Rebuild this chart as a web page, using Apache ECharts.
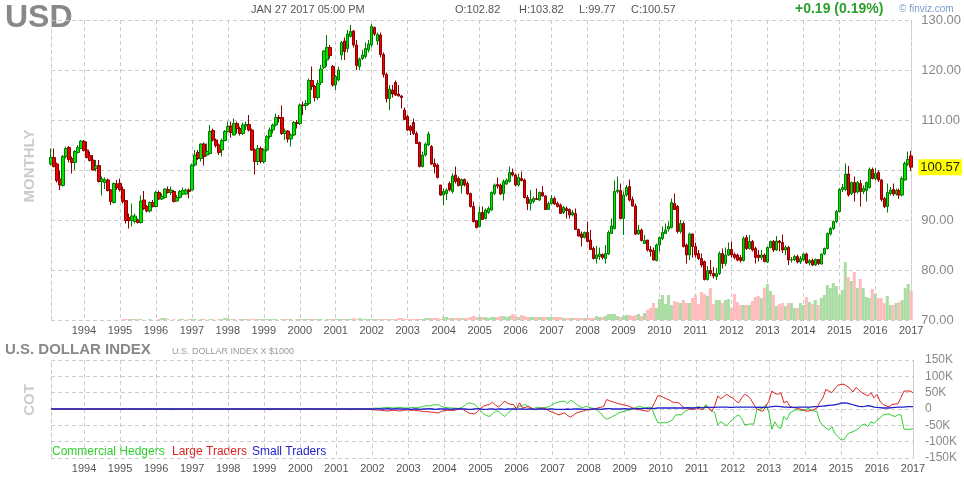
<!DOCTYPE html>
<html><head><meta charset="utf-8">
<script src="https://cdn.jsdelivr.net/npm/echarts@6/dist/echarts.min.js"></script>
<style>html,body{margin:0;padding:0;background:#fff}#c{width:964px;height:480px}</style>
</head><body><div id="c"></div>
<script>
// ---------- DATA ----------
const startYear = 1993, startMonth = 2; // first monthly candle: Feb 1993
const yearLabels = ['1994','1995','1996','1997','1998','1999','2000','2001','2002','2003','2004','2005','2006','2007','2008','2009','2010','2011','2012','2013','2014','2015','2016','2017'];
// [open, close, low, high] per month
const monthlyOHLC = [
// 1993 (Feb-Dec)
[101.2,102.5,100.9,104.3],[102.5,100.7,100.5,104.3],[101.2,97.9,97.5,101.5],[98.2,97.0,96.0,99.9],[96.9,102.7,96.7,103.0],[102.7,104.3,102.3,104.7],[104.5,102.1,101.5,104.8],[102.3,101.5,99.3,102.7],[101.5,103.7,100.0,104.0],[103.5,104.5,103.3,105.0],[104.3,105.8,104.2,106.0],
// 1994
[105.7,103.9,103.7,106.0],[104.0,102.5,102.3,105.7],[102.9,101.9,101.7,103.7],[102.0,100.0,99.9,103.0],[100.3,100.8,99.7,102.0],[100.9,97.7,97.5,102.0],[97.7,98.2,94.9,98.7],[97.5,98.0,96.2,98.5],[98.0,95.9,95.7,98.3],[96.0,93.7,93.0,96.2],[93.5,97.3,93.3,97.5],[97.2,96.5,96.0,98.0],
// 1995
[97.3,96.1,95.7,98.3],[96.1,93.7,93.3,96.7],[93.9,89.9,89.3,94.0],[90.5,89.9,88.3,91.3],[89.9,90.8,88.7,93.3],[89.7,90.8,89.3,91.3],[90.0,89.5,89.3,90.3],[89.5,93.8,89.3,94.9],[94.0,92.3,92.0,95.8],[92.7,91.8,91.5,93.0],[91.8,93.5,91.5,93.7],[93.5,92.7,92.5,94.0],
// 1996
[92.7,95.5,92.5,95.8],[95.5,94.2,94.0,95.9],[94.2,94.7,94.0,95.3],[94.5,96.2,94.3,96.3],[96.1,95.5,95.3,96.7],[95.5,96.0,95.0,96.7],[95.7,93.7,93.5,96.0],[93.8,94.5,93.7,95.0],[94.5,95.7,94.3,96.0],[95.2,95.9,95.0,96.5],[95.2,96.0,95.0,96.3],[96.0,95.7,94.3,96.3],
// 1997
[96.0,101.0,95.9,101.3],[101.0,103.0,100.7,104.0],[103.5,102.3,102.0,104.0],[102.3,105.2,101.7,105.3],[105.2,102.7,100.9,105.5],[103.0,103.7,102.7,105.3],[103.3,107.7,103.1,109.0],[107.9,106.0,105.7,108.3],[106.0,104.9,104.5,106.3],[105.0,103.5,103.0,105.3],[104.0,105.9,102.7,106.3],[105.9,107.7,105.7,108.0],
// 1998
[107.7,108.7,107.5,109.7],[108.8,107.5,106.5,109.7],[107.0,109.3,106.9,110.3],[109.3,108.3,107.3,109.7],[108.3,107.3,106.9,108.7],[107.3,109.0,107.0,109.5],[108.8,109.1,108.0,109.7],[109.1,108.0,107.7,111.0],[108.0,104.0,103.8,108.3],[104.0,101.7,99.1,104.3],[101.7,104.3,101.0,105.0],[104.3,101.7,101.3,104.7],
// 1999
[101.7,104.0,101.3,104.3],[104.0,106.7,103.7,107.0],[106.7,108.0,106.3,108.5],[108.0,109.0,107.3,109.3],[109.0,110.5,108.7,111.3],[110.5,110.3,109.5,111.0],[110.5,107.3,107.0,112.9],[107.3,107.8,106.0,108.3],[107.8,106.2,105.5,108.0],[106.2,107.0,104.7,107.3],[107.0,109.5,106.8,109.8],[109.5,109.3,108.3,110.0],
// 2000
[109.3,113.0,109.0,113.3],[113.0,112.9,111.0,113.7],[112.9,113.3,112.0,114.0],[113.3,117.9,113.0,118.3],[117.9,116.7,116.0,120.7],[116.7,114.5,113.7,117.0],[114.5,117.3,114.0,118.0],[117.5,120.2,117.0,121.0],[120.5,123.8,120.2,124.0],[122.0,124.5,120.7,127.0],[124.5,122.9,122.3,125.0],[120.7,117.0,116.7,121.0],
// 2001
[117.0,118.7,116.0,119.0],[118.0,120.0,117.7,120.7],[123.0,125.5,122.0,125.8],[125.8,123.7,122.0,126.5],[124.3,127.2,123.5,128.0],[126.7,127.7,126.5,129.0],[127.8,125.0,124.5,128.0],[125.0,120.9,120.0,126.0],[120.7,122.2,120.0,122.5],[122.3,123.0,122.0,124.0],[122.7,124.3,122.3,125.5],[124.0,125.2,123.5,126.0],
// 2002
[125.0,128.7,124.5,129.2],[128.5,127.2,126.8,128.7],[125.8,127.1,125.0,127.5],[127.0,123.1,122.5,127.5],[123.1,119.1,118.5,123.5],[119.1,114.3,113.5,119.5],[114.3,116.2,112.0,117.0],[116.0,115.2,114.5,117.0],[117.5,115.0,114.8,117.9],[115.2,114.8,114.7,117.0],[114.8,114.5,112.3,115.0],[112.0,110.1,110.0,112.5],
// 2003
[110.7,108.0,107.8,111.0],[108.7,107.9,107.0,109.0],[109.5,107.3,107.0,110.3],[107.3,105.3,105.2,107.7],[105.5,100.7,100.5,105.7],[100.7,103.0,100.5,103.7],[103.0,105.2,102.7,105.5],[105.0,107.2,104.8,107.7],[104.7,101.2,101.0,105.0],[101.3,100.7,99.3,102.3],[101.0,98.5,98.3,101.3],[97.0,95.0,94.8,97.0],
// 2004
[95.0,95.7,93.0,96.3],[95.3,96.0,94.0,96.3],[97.3,96.0,95.7,97.7],[95.7,98.8,95.3,99.3],[99.0,97.7,97.3,100.7],[98.3,96.9,96.7,98.7],[96.9,98.1,95.3,98.3],[98.1,97.0,96.7,98.3],[97.3,95.2,95.0,97.7],[95.3,92.7,92.5,95.5],[92.7,89.7,89.5,93.7],[89.9,88.5,88.3,90.0],
// 2005
[88.7,91.5,88.5,92.7],[91.5,90.1,90.0,92.7],[90.3,92.0,90.1,92.3],[91.5,92.3,91.2,92.7],[92.0,95.5,91.9,95.7],[95.3,97.0,95.0,97.3],[97.1,96.8,96.3,98.5],[97.0,95.2,95.0,97.3],[95.3,97.7,93.9,98.1],[97.2,98.0,97.0,98.3],[97.7,99.5,97.5,100.7],[99.5,99.0,98.7,100.3],
// 2006
[99.0,97.0,96.7,99.3],[97.0,98.5,96.7,99.3],[98.3,97.9,97.7,99.7],[98.0,94.5,94.3,98.3],[94.5,93.3,92.0,95.0],[93.3,94.1,91.9,96.0],[93.7,94.3,93.3,94.7],[94.3,94.1,94.0,96.3],[94.0,95.5,93.8,95.7],[95.5,94.8,94.7,96.8],[94.8,92.1,92.0,95.0],[92.1,93.3,92.0,93.7],
// 2007
[93.3,94.3,93.1,95.0],[94.3,93.2,93.0,94.7],[93.3,92.7,92.5,93.7],[93.0,91.3,91.2,93.3],[91.5,92.5,91.2,92.8],[92.3,91.9,90.3,92.7],[92.1,91.0,90.3,92.3],[91.0,91.5,90.7,92.0],[91.3,88.1,88.0,92.3],[88.1,86.8,86.7,88.3],[87.2,86.5,84.7,87.7],[86.5,87.5,86.3,87.7],
// 2008
[87.5,85.7,85.5,89.7],[86.0,84.1,84.0,88.0],[84.3,82.3,82.1,84.7],[82.3,83.0,81.3,84.8],[82.7,83.2,82.0,84.5],[83.1,82.5,82.1,83.3],[82.3,83.3,81.3,85.0],[83.2,87.5,83.0,87.9],[87.3,88.8,87.2,90.3],[88.3,95.7,88.1,97.9],[95.7,96.0,95.3,98.7],[95.9,90.3,90.1,97.3],
// 2009
[90.3,95.0,87.0,95.7],[95.0,96.5,94.7,97.0],[96.7,94.0,93.7,98.1],[94.1,92.8,92.7,94.7],[92.8,87.2,87.0,93.3],[87.2,88.0,87.0,89.0],[88.0,85.9,85.7,88.3],[85.3,85.9,85.2,87.0],[86.0,84.0,83.7,86.0],[84.1,83.7,82.7,84.8],[83.9,82.0,81.9,84.5],[81.9,85.0,81.7,85.3],
// 2010
[85.0,86.5,83.7,86.7],[86.3,87.5,86.0,88.7],[87.3,88.0,87.2,89.3],[88.2,88.7,87.7,89.7],[88.5,93.5,88.3,94.3],[93.3,92.1,92.0,95.3],[92.7,87.7,87.3,93.0],[87.7,89.3,87.3,90.0],[89.3,84.7,84.5,89.7],[85.0,83.0,81.3,85.3],[83.0,87.2,82.0,87.5],[87.2,84.7,82.5,87.3],
// 2011
[84.7,83.0,82.5,85.5],[83.3,82.3,82.0,84.0],[82.3,81.0,80.5,83.3],[81.7,78.1,77.9,81.9],[78.1,79.9,77.9,80.8],[79.9,79.3,78.8,82.0],[79.3,78.8,78.3,80.6],[78.7,79.3,78.0,80.4],[79.3,83.3,79.0,83.7],[83.3,81.3,80.3,84.3],[81.3,83.0,80.8,84.5],[83.0,84.1,82.8,85.5],
// 2012
[84.1,83.0,82.5,85.7],[83.1,82.5,82.1,83.5],[83.0,82.0,81.7,83.3],[82.5,81.9,81.5,83.0],[81.9,86.3,81.7,86.7],[86.5,84.3,84.0,87.0],[84.3,85.7,84.1,87.0],[85.7,84.0,83.7,86.0],[84.3,82.5,81.3,84.7],[83.0,82.5,81.7,84.0],[82.5,83.0,82.0,84.0],[83.0,81.7,81.5,83.3],
// 2013
[81.6,84.5,81.4,84.7],[84.5,85.7,84.3,85.9],[85.7,84.0,83.6,86.0],[84.0,85.8,83.8,86.8],[85.8,85.5,83.7,86.0],[85.5,84.0,83.4,87.1],[84.0,84.5,83.0,84.9],[84.5,82.0,81.0,84.8],[82.0,82.1,81.5,82.6],[82.1,82.7,81.8,83.0],[82.7,81.6,81.3,83.1],[81.6,82.3,81.2,82.8],
// 2014
[82.0,83.2,81.8,83.4],[83.2,81.4,81.2,83.5],[81.4,81.9,80.9,82.2],[81.9,81.0,80.8,82.3],[81.0,82.1,80.8,82.3],[82.1,81.3,81.0,82.2],[81.2,83.2,81.1,83.3],[83.2,84.3,83.0,84.5],[84.3,87.3,84.1,87.5],[87.2,88.3,86.9,88.6],[88.3,89.7,88.0,89.9],[89.7,91.7,89.4,92.0],
// 2015
[91.7,96.1,91.5,96.4],[96.1,96.5,95.6,97.2],[96.1,99.2,95.8,101.3],[99.2,95.0,94.7,100.8],[95.3,97.5,95.0,97.7],[97.5,95.5,93.7,98.7],[95.6,97.5,95.3,97.8],[97.3,95.7,92.7,98.0],[95.7,96.3,95.2,96.9],[95.9,97.5,93.7,97.7],[96.5,100.1,96.3,100.5],[100.1,98.3,98.1,100.5],
// 2016
[98.3,99.3,97.9,100.4],[99.5,98.0,97.6,100.0],[98.0,94.1,93.7,98.2],[94.3,92.7,92.4,94.6],[92.7,95.5,91.5,97.3],[95.3,96.0,94.9,96.6],[96.1,95.2,94.8,97.3],[95.2,95.9,94.9,96.3],[95.9,95.0,94.2,96.3],[95.0,98.3,94.7,98.7],[98.0,101.3,97.9,101.7],[101.2,102.1,100.8,103.7],
// 2017 (Jan)
[102.82,100.57,99.77,103.82]
];
// volume (relative units)
const volume = [
0,0,0,0,0,0,0,0,0,0,0,
0,0,0,0,0,0,0,0,0,0,0,0,
0,1,1,1,1,1,1,1,0,0,1,0,
0,1,2,2,1,0,1,0,1,1,0,1,
1,1,0,1,1,0,1,1,0,1,1,2,
2,1,1,0,1,1,1,1,1,1,1,1,
1,1,1,1,1,0,1,1,1,1,0,1,
1,1,1,1,1,1,1,1,0,1,1,1,
1,1,1,1,1,1,2,1,2,1,1,1,
1,1,1,1,1,1,1,1,1,2,2,1,
1,1,1,1,1,1,2,2,2,2,2,1,
3,3,2,2,2,2,2,2,2,3,4,3,
3,3,3,2,3,3,3,4,4,3,4,6,
4,3,5,4,3,3,3,3,3,3,3,3,
3,3,3,3,2,2,2,2,2,2,2,2,
2,2,2,4,3,3,4,6,6,6,4,3,
4,5,5,4,5,6,4,7,10,12,17,12,
21,25,16,25,15,19,18,17,20,17,17,22,
25,16,28,26,24,32,16,20,20,17,20,21,
12,26,18,15,15,15,15,19,23,24,22,32,
36,29,25,14,16,17,14,17,17,12,12,17,
15,23,18,16,20,15,22,25,35,32,37,34,
25,30,58,43,39,48,32,41,32,23,22,31,
26,22,22,17,24,15,15,17,18,20,32,36,
29
];
// COT net positions (thousands of contracts)
const cotCommercial = [
0,0,0,0,0,0,0,0,0,0,0,
0,0,0,0,0,0,0,0,0,0,0,0,
0,0,0,0,0,0,0,1,1,0,-1,0,
1,0,-1,0,1,2,1,0,0,1,0,-1,
0,1,0,-1,0,1,1,0,0,1,0,0,
1,0,-1,0,1,0,0,1,0,-1,0,1,
0,1,2,1,0,-1,0,1,0,0,1,0,
1,0,0,-1,0,1,0,0,1,0,0,1,
0,1,0,0,1,2,1,0,0,1,0,1,
2,3,2,3,4,5,4,3,4,5,4,3,
3,5,4,4,6,8,10,9,12,13,13,8,
5,4,3,3,2,2,6,12,19,17,14,6,
-5,-15,-20,-23,-15,-7,-7,-15,-23,-15,-5,3,
3,8,11,14,6,-2,2,6,4,3,5,8,
14,19,21,23,24,17,27,22,14,8,3,8,
6,3,1,-5,-12,-25,-31,-28,-23,-18,-12,-9,
-7,-4,-2,2,6,8,5,3,6,3,-20,-42,
-42,-42,-42,-38,-33,-18,-18,-18,-7,-3,3,3,
6,8,-2,14,3,-5,-12,-49,-39,-45,-52,-40,
-33,-23,-18,-30,-49,-47,-46,-46,-2,0,3,14,
-10,-62,-39,-55,-59,-23,-33,-12,-7,-2,-3,-5,
-4,3,-3,-7,-7,-39,-50,-58,-65,-54,-75,-85,
-94,-94,-80,-72,-70,-65,-59,-48,-46,-54,-39,-44,
-35,-28,-18,-16,-15,-20,-23,-18,-18,-62,-62,-62,
-60
];
const cotLarge = [
0,0,0,0,0,0,0,0,0,0,0,
0,0,0,0,0,0,0,0,0,0,0,0,
0,0,0,0,0,0,0,-1,-1,0,1,0,
-1,0,1,0,-1,-2,-1,0,0,-1,0,1,
0,-1,0,1,0,-1,-1,0,0,-1,0,0,
-1,0,1,0,-1,0,0,-1,0,1,0,-1,
0,-1,-2,-1,0,1,0,-1,0,0,-1,0,
-1,0,0,1,0,-1,0,0,-1,0,0,-1,
0,-1,0,0,-1,-2,-1,0,0,-1,0,-1,
-2,-3,-3,-4,-5,-6,-5,-4,-5,-6,-5,-3,
-3,-4,-4,-5,-6,-8,-8,-9,-10,-11,-12,-7,
-5,-4,-4,-5,-2,-1,0,-6,-12,-14,-15,-8,
2,8,12,14,21,12,6,14,24,18,14,14,
0,19,3,5,8,3,-2,0,2,3,0,-7,
-10,-14,-18,-15,-12,-20,-25,-18,-12,-9,-7,-4,
-2,-2,0,3,5,8,29,25,22,19,16,14,
12,10,6,2,-2,-2,-4,-6,-7,3,20,40,
40,35,31,27,21,20,19,10,3,1,-1,-2,
3,0,-2,8,2,-7,10,40,31,38,45,38,
34,24,19,35,45,40,30,14,0,-4,-7,8,
24,55,48,45,50,19,24,8,5,3,1,-2,
-4,-7,-4,-2,3,21,34,60,55,50,62,73,
75,76,70,63,52,66,58,50,45,40,50,34,
45,24,14,10,6,14,15,16,35,55,55,55,
50
];
const cotSmall = [
0,0,0,0,0,0,0,0,0,0,0,
0,0,0,0,0,0,0,0,0,0,0,0,
0,0,0,0,0,0,0,0,0,0,0,0,
0,0,0,0,0,0,0,0,0,0,0,0,
0,0,0,0,0,0,0,0,0,0,0,0,
0,0,0,0,0,0,0,0,0,0,0,0,
0,0,0,0,0,0,0,0,0,0,0,0,
0,0,0,0,0,0,0,0,0,0,0,0,
0,0,0,0,0,0,0,0,0,0,0,0,
0,0,1,0,0,1,0,0,1,0,0,0,
0,-1,0,0,-1,0,0,1,0,-1,0,0,
0,0,-1,0,0,1,0,0,-1,-1,0,1,
0,-1,-1,0,0,-1,0,0,-1,0,0,0,
-1,0,0,-1,0,0,-1,0,0,0,-1,0,
0,-1,-1,-1,-1,0,-1,0,0,0,-1,-1,
-1,0,0,0,-1,0,1,1,0,0,0,0,
1,0,0,1,1,1,1,2,2,2,2,3,
3,3,3,3,3,3,3,3,3,4,3,3,
4,4,4,5,5,5,5,6,6,6,6,5,
5,6,6,6,6,6,6,6,5,6,5,5,
6,7,8,8,7,6,6,5,5,5,6,6,
6,6,6,7,7,8,9,10,11,12,13,15,
18,19,18,16,13,10,8,7,8,10,9,6,
5,4,3,3,3,4,5,6,6,6,7,7,
7
];
const cotTicks = [-150,-100,-50,0,50,100,150];
const legendNames = ['Commercial Hedgers', 'Large Traders', 'Small Traders'];

// ---------- BUILD ----------
const months = [];
for (let i = 0; i < monthlyOHLC.length; i++) {
  const m = startMonth - 1 + i;
  const y = startYear + Math.floor(m / 12);
  const mm = m % 12 + 1;
  months.push(y + '-' + (mm < 10 ? '0' : '') + mm);
}
const isYearStart = (idx, val) => val.slice(5) === '01' && yearLabels.indexOf(val.slice(0, 4)) >= 0;
const gridColor = '#cccccc';
const dash = [4, 3];
const last = monthlyOHLC[monthlyOHLC.length - 1];
const FONT = 'Arial, "Liberation Sans", sans-serif';
const cotColors = ['#2fce2f', '#dd2222', '#2222cc'];

const volData = volume.map((v, i) => ({
  value: v,
  itemStyle: { color: monthlyOHLC[i][1] >= monthlyOHLC[i][0] ? '#abdca4' : '#ffbcbc' }
}));

const xCommon = (gi) => ({
  type: 'category', gridIndex: gi, data: months, boundaryGap: false,
  axisLine: { show: false, onZero: false }, axisTick: { show: false },
  axisLabel: { interval: isYearStart, formatter: v => v.slice(0, 4), color: '#555', fontSize: 11, fontFamily: FONT, margin: 5 },
  splitLine: { show: true, interval: isYearStart, lineStyle: { color: gridColor, type: dash, width: 1 } }
});

const chart = echarts.init(document.getElementById('c'), null, { renderer: 'canvas' });
chart.setOption({
  animation: false,
  backgroundColor: '#fff',
  textStyle: { fontFamily: FONT },
  grid: [
    { left: 51, right: 51, top: 20, height: 300 },
    { left: 51, right: 51, top: 360, height: 98 }
  ],
  xAxis: [xCommon(0), xCommon(1)],
  yAxis: [
    { gridIndex: 0, type: 'value', position: 'right', min: 70, max: 130, interval: 10,
      axisLine: { show: true, lineStyle: { color: gridColor, type: dash } }, axisTick: { show: false },
      axisLabel: { formatter: v => v.toFixed(2), color: '#888', fontSize: 13, margin: 10, fontFamily: FONT },
      splitLine: { show: true, lineStyle: { color: gridColor, type: dash } } },
    { gridIndex: 0, type: 'value', position: 'left', min: 0, max: 300,
      axisLine: { show: true, lineStyle: { color: gridColor, type: dash } }, axisTick: { show: false },
      axisLabel: { show: false }, splitLine: { show: false } },
    { gridIndex: 1, type: 'value', position: 'right', min: cotTicks[0], max: cotTicks[cotTicks.length - 1], interval: 50,
      axisLine: { show: true, lineStyle: { color: gridColor, type: dash } }, axisTick: { show: false },
      axisLabel: { formatter: v => v === 0 ? '0' : v + 'K', color: '#888', fontSize: 12, margin: 12, fontFamily: FONT },
      splitLine: { show: true, lineStyle: { color: gridColor, type: dash } } },
    { gridIndex: 1, type: 'value', position: 'left', min: cotTicks[0], max: cotTicks[cotTicks.length - 1],
      axisLine: { show: true, onZero: false, lineStyle: { color: gridColor, type: dash } }, axisTick: { show: false },
      axisLabel: { show: false }, splitLine: { show: false } }
  ],
  series: [
    { name: 'Volume', type: 'bar', xAxisIndex: 0, yAxisIndex: 1, data: volData, barWidth: 3, z: 1, silent: true },
    { name: 'USD', type: 'candlestick', xAxisIndex: 0, yAxisIndex: 0, data: monthlyOHLC, barWidth: 3, clip: false, z: 3,
      itemStyle: { color: '#00e400', color0: '#f00000', borderColor: '#007a00', borderColor0: '#8a0000', borderWidth: 1 },
      markLine: {
        silent: true, symbol: ['none', 'none'], animation: false,
        lineStyle: { color: 'rgba(0,0,0,0)', width: 0 },
        data: [{ yAxis: last[1] }],
        label: { show: true, position: 'end', distance: 7, formatter: () => last[1].toFixed(2),
          backgroundColor: '#ffff00', color: '#222', fontSize: 13, fontFamily: FONT, padding: [2, 2, 1, 2] }
      }
    },
    { name: legendNames[0], type: 'line', xAxisIndex: 1, yAxisIndex: 2, data: cotCommercial, symbol: 'none', lineStyle: { color: cotColors[0], width: 1 } },
    { name: legendNames[1], type: 'line', xAxisIndex: 1, yAxisIndex: 2, data: cotLarge, symbol: 'none', lineStyle: { color: cotColors[1], width: 1 } },
    { name: legendNames[2], type: 'line', xAxisIndex: 1, yAxisIndex: 2, data: cotSmall, symbol: 'none', lineStyle: { color: cotColors[2], width: 1.3 }, z: 4 }
  ],
  graphic: [
    { type: 'text', left: 5, top: 2, style: { text: 'USD', font: 'bold 32px ' + FONT, fill: '#888' } },
    { type: 'text', left: 251, top: 4, style: { text: 'JAN 27 2017 05:00 PM', font: '11px ' + FONT, fill: '#555' } },
    { type: 'text', left: 455, top: 4, style: { text: 'O:' + last[0].toFixed(2), font: '11px ' + FONT, fill: '#555' } },
    { type: 'text', left: 519, top: 4, style: { text: 'H:' + last[3].toFixed(2), font: '11px ' + FONT, fill: '#555' } },
    { type: 'text', left: 579, top: 4, style: { text: 'L:' + last[2].toFixed(2), font: '11px ' + FONT, fill: '#555' } },
    { type: 'text', left: 631, top: 4, style: { text: 'C:' + last[1].toFixed(2), font: '11px ' + FONT, fill: '#555' } },
    { type: 'text', left: 795, top: 2, style: { text: '+0.19 (0.19%)', font: 'bold 14px ' + FONT, fill: '#2ca02c' } },
    { type: 'text', left: 899, top: 4, style: { text: '\u00a9 finviz.com', font: '10px ' + FONT, fill: '#7a9ccc' } },
    { type: 'text', x: 30, y: 166, rotation: Math.PI / 2, style: { text: 'MONTHLY', font: 'bold 15px ' + FONT, fill: '#cccccc', align: 'center', verticalAlign: 'middle' } },
    { type: 'text', left: 5, top: 342, style: { text: 'U.S. DOLLAR INDEX', font: 'bold 15px ' + FONT, fill: '#888' } },
    { type: 'text', left: 172, top: 347, style: { text: 'U.S. DOLLAR INDEX X $1000', font: '9px ' + FONT, fill: '#999' } },
    { type: 'text', x: 30, y: 400, rotation: Math.PI / 2, style: { text: 'COT', font: 'bold 15px ' + FONT, fill: '#cccccc', align: 'center', verticalAlign: 'middle' } },
    { type: 'text', left: 52, top: 446, style: { text: legendNames[0], font: '12px ' + FONT, fill: cotColors[0] } },
    { type: 'text', left: 172, top: 446, style: { text: legendNames[1], font: '12px ' + FONT, fill: cotColors[1] } },
    { type: 'text', left: 252, top: 446, style: { text: legendNames[2], font: '12px ' + FONT, fill: cotColors[2] } }
  ]
});
</script>
</body></html>
